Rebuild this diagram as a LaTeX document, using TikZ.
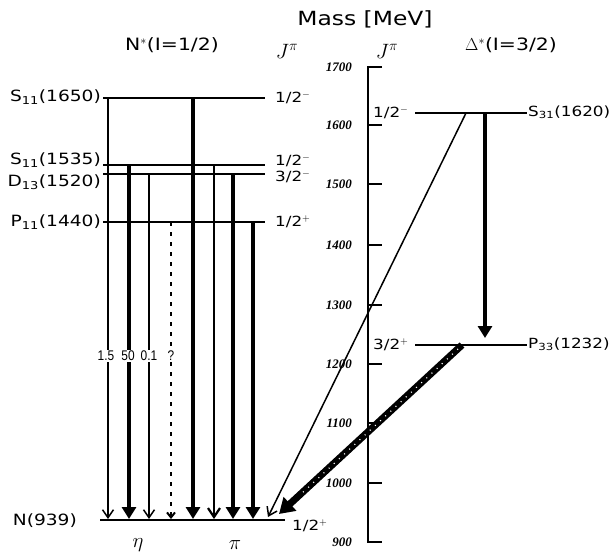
\documentclass[tikz,border=0pt]{standalone}
\usepackage{fontspec}
\setmainfont{DejaVu Sans}
\newfontfamily\labfont[FakeStretch=1.2]{DejaVu Sans}
\newfontfamily\narrowfont[FakeStretch=0.85]{Liberation Sans}
\newfontfamily\tickfont{Liberation Serif}
\usetikzlibrary{arrows.meta}
\begin{document}
\begin{tikzpicture}[x=1pt,y=-1pt,
  level/.style={line width=1.8pt},
  axisline/.style={line width=1.6pt},
  thinarr/.style={line width=1.5pt,-{Straight Barb[length=8pt,width=11pt]}},
  medarr/.style={line width=2.2pt,-{Straight Barb[length=9pt,width=12pt]}},
  thickarr/.style={line width=3.2pt,-{Triangle[length=12pt,width=14pt]}},
  dasharr/.style={line width=2pt,dash pattern=on 4pt off 6pt,-{Straight Barb[length=5pt,width=8pt]}},
  statelab/.style={font=\labfont\fontsize{15.5}{17}\selectfont,inner sep=0pt},
  rstatelab/.style={font=\labfont\fontsize{14}{15}\selectfont,inner sep=0pt},
  spinlab/.style={font=\labfont\fontsize{14}{15}\selectfont,inner sep=0pt},
  titlelab/.style={font=\labfont\fontsize{17}{19}\selectfont,inner sep=0pt},
  ticklab/.style={font=\tickfont\itshape\bfseries\fontsize{13}{14}\selectfont,inner sep=0pt,anchor=east},
  brlab/.style={font=\narrowfont\fontsize{14}{15}\selectfont,inner sep=1pt,fill=white},
  jplab/.style={font=\fontsize{22}{23}\selectfont,inner sep=0pt}
]
\useasboundingbox (0,0) rectangle (609,557);

% ---------- titles ----------
\node[titlelab,font=\labfont\fontsize{19.5}{21}\selectfont] (mass) at (365,19) {Mass [MeV]};
\node[titlelab] (nstar) at (172,45) {N$^{*}$(I=1/2)};
\node[titlelab] (dstar) at (511,45) {$\Delta^{*}$(I=3/2)};
\node[jplab] (jp1) at (287,51) {$J^{\pi}$};
\node[jplab] (jp2) at (387,51) {$J^{\pi}$};

% ---------- left level coordinates ----------
\coordinate (S1650L) at (103,98);  \coordinate (S1650R) at (265,98);
\coordinate (S1535L) at (103,165); \coordinate (S1535R) at (265,165);
\coordinate (D1520L) at (103,174); \coordinate (D1520R) at (265,174);
\coordinate (P1440L) at (103,222); \coordinate (P1440R) at (265,222);
\coordinate (NL) at (100,520);     \coordinate (NR) at (285,520);

\draw[level] (S1650L) -- (S1650R);
\draw[level] (S1535L) -- (S1535R);
\draw[level] (D1520L) -- (D1520R);
\draw[level] (P1440L) -- (P1440R);
\draw[level] (NL) -- (NR);

\node[statelab,anchor=east] (lS1650) at (101,97) {S\textsubscript{11}(1650)};
\node[statelab,anchor=east] (lS1535) at (101,160) {S\textsubscript{11}(1535)};
\node[statelab,anchor=east] (lD1520) at (101,182) {D\textsubscript{13}(1520)};
\node[statelab,anchor=east] (lP1440) at (101,222) {P\textsubscript{11}(1440)};
\node[statelab,anchor=east] (lN939) at (77,521) {N(939)};

\node[spinlab,anchor=west] (jS1650) at (275,98) {1/2\textsuperscript{$-$}};
\node[spinlab,anchor=west] (jS1535) at (275,161) {1/2\textsuperscript{$-$}};
\node[spinlab,anchor=west] (jD1520) at (275,176.5) {3/2\textsuperscript{$-$}};
\node[spinlab,anchor=west] (jP1440) at (275,222) {1/2\textsuperscript{$+$}};
\node[spinlab,anchor=west] (jN939) at (292,526) {1/2\textsuperscript{$+$}};

% ---------- decay arrows: eta ----------
\coordinate (e1s) at (108,98);  \coordinate (e1e) at (108,519);
\coordinate (e2s) at (129,165); \coordinate (e2e) at (129,519);
\coordinate (e3s) at (149,174); \coordinate (e3e) at (149,519);
\coordinate (e4s) at (171,222); \coordinate (e4e) at (171,519);
\draw[thinarr] (e1s) -- (e1e);
\draw[thickarr] (e2s) -- (e2e);
\draw[thinarr] (e3s) -- (e3e);
\draw[dasharr] (e4s) -- (e4e);

\node[brlab] (b1) at (106,356) {1.5};
\node[brlab] (b2) at (128,356) {50};
\node[brlab] (b3) at (149,356) {0.1};
\node[brlab] (b4) at (171,356) {?};

% ---------- decay arrows: pi ----------
\coordinate (p1s) at (193,98);  \coordinate (p1e) at (193,519);
\coordinate (p2s) at (214,165); \coordinate (p2e) at (214,519);
\coordinate (p3s) at (233,174); \coordinate (p3e) at (233,519);
\coordinate (p4s) at (253,222); \coordinate (p4e) at (253,519);
\draw[thickarr] (p1s) -- (p1e);
\draw[medarr] (p2s) -- (p2e);
\draw[thickarr] (p3s) -- (p3e);
\draw[thickarr] (p4s) -- (p4e);

\node[jplab] (eta) at (138,545) {$\eta$};
\node[jplab] (pi) at (235,545) {$\pi$};

% ---------- mass axis ----------
\draw[axisline] (382,67) -- (368,67) -- (368,542) -- (382,542);
\foreach \m/\y in {1600/125,1500/184,1400/245,1300/305,1200/364,1100/423,1000/483}{
  \draw[axisline] (368,\y) -- (382,\y);
}
\foreach \m/\y in {1700/67,1600/125,1500/184,1400/245,1300/305,1200/364,1100/423,1000/483,900/542}{
  \node[ticklab] (t\m) at (352,\y) {\m};
}

% ---------- right levels ----------
\coordinate (S1620L) at (415,113); \coordinate (S1620R) at (527,113);
\coordinate (P1232L) at (415,345); \coordinate (P1232R) at (527,345);
\draw[level] (S1620L) -- (S1620R);
\draw[level] (P1232L) -- (P1232R);
\node[spinlab,anchor=west] (jS1620) at (373,113) {1/2\textsuperscript{$-$}};
\node[spinlab,anchor=west] (jP1232) at (373,345) {3/2\textsuperscript{$+$}};
\node[rstatelab,anchor=west] (lS1620) at (528,112) {S\textsubscript{31}(1620)};
\node[rstatelab,anchor=west] (lP1232) at (528,344) {P\textsubscript{33}(1232)};

% ---------- delta decays ----------
\coordinate (d1s) at (485,113); \coordinate (d1e) at (485,338);
\draw[thickarr] (d1s) -- (d1e);

\coordinate (d2s) at (466,113); \coordinate (d2e) at (268,517);
\draw[thinarr] (d2s) -- (d2e);

\coordinate (d3s) at (462,345); \coordinate (d3e) at (279,514);
\draw[line width=7pt,-{Triangle[length=15pt,width=18pt]}] (d3s) -- (d3e);
\draw[white,line width=1.2pt,dash pattern=on 1pt off 6pt] (458,349) -- (300,495);
\end{tikzpicture}
\end{document}
